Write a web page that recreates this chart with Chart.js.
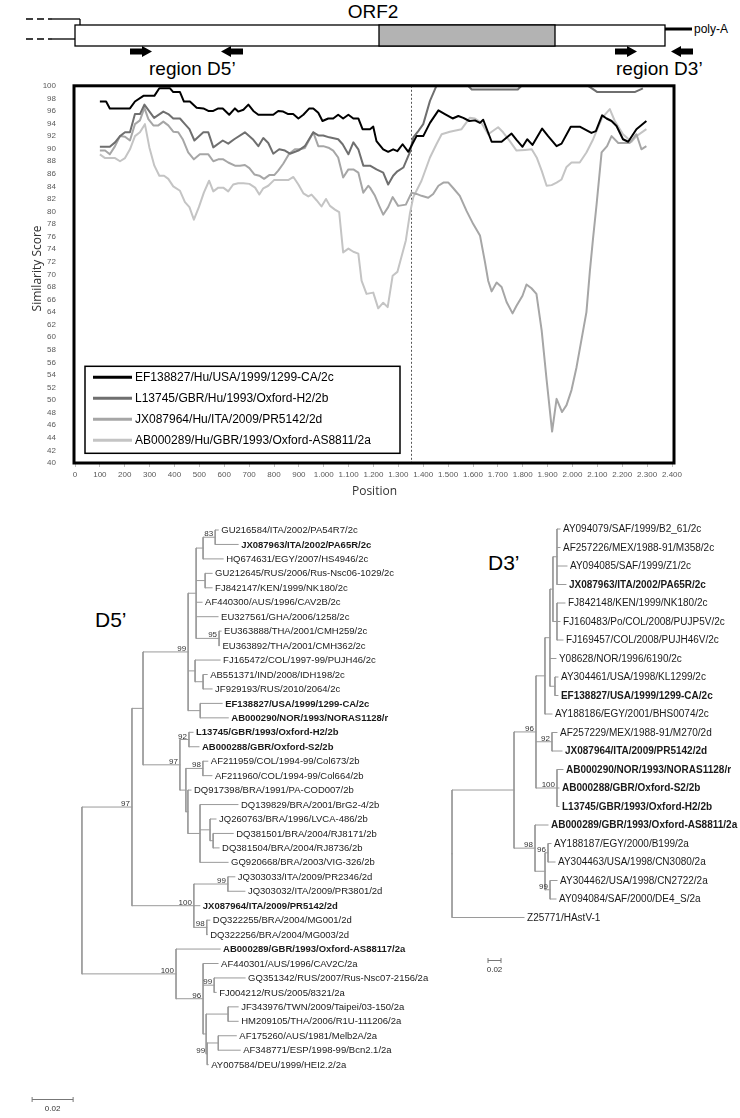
<!DOCTYPE html>
<html><head><meta charset="utf-8">
<script src="https://cdn.jsdelivr.net/npm/chart.js@4.4.1/dist/chart.umd.min.js"></script>
<style>
html,body{margin:0;padding:0;background:#fff;}
body{width:740px;height:1118px;position:relative;overflow:hidden;font-family:"Liberation Sans",Arial,sans-serif;}
.abs{position:absolute;}
</style></head><body>
<svg class="abs" style="left:0;top:0" width="740" height="1118" font-family="Liberation Sans, Arial, sans-serif">
  <text x="373" y="18" font-size="19" text-anchor="middle">ORF2</text>
  <g stroke="#000" stroke-width="1.3" fill="none">
    <line x1="26" y1="19" x2="52" y2="19" stroke-dasharray="7,4"/>
    <line x1="52" y1="19" x2="80" y2="19"/>
    <line x1="80" y1="19" x2="80" y2="25"/>
    <line x1="26" y1="39" x2="52" y2="39" stroke-dasharray="7,4"/>
    <line x1="52" y1="39" x2="75" y2="39"/>
    <rect x="75" y="25" width="590" height="21" fill="#fff"/>
    <rect x="379" y="25" width="176" height="21" fill="#b3b3b3"/>
    <line x1="665" y1="29" x2="692" y2="29" stroke-width="3"/>
  </g>
  <text x="694" y="33" font-size="12">poly-A</text>
  <g fill="#000">
    <polygon points="130,48.5 142,48.5 142,46 152,51.5 142,57 142,54.5 130,54.5"/>
    <polygon points="243,48.5 231,48.5 231,46 221,51.5 231,57 231,54.5 243,54.5"/>
    <polygon points="615,48.5 627,48.5 627,46 637,51.5 627,57 627,54.5 615,54.5"/>
    <polygon points="693,48.5 681,48.5 681,46 671,51.5 681,57 681,54.5 693,54.5"/>
  </g>
  <text x="149" y="75" font-size="19">region D5’</text>
  <text x="616" y="75" font-size="19">region D3’</text>
  <text x="95" y="627" font-size="21">D5’</text>
  <text x="488" y="570" font-size="21">D3’</text>
</svg>
<canvas id="sim" class="abs" style="left:0;top:70px" width="740" height="440"></canvas>
<canvas id="t5" class="abs" style="left:0;top:520px" width="430" height="598"></canvas>
<canvas id="t3" class="abs" style="left:440px;top:520px" width="300" height="480"></canvas>
<script>
// ================= DATA =================
const seriesNames = [
  "EF138827/Hu/USA/1999/1299-CA/2c",
  "L13745/GBR/Hu/1993/Oxford-H2/2b",
  "JX087964/Hu/ITA/2009/PR5142/2d",
  "AB000289/Hu/GBR/1993/Oxford-AS8811/2a"
];
const posEF = [100,125,140,221,241,275,319,339,382,395,422,438,462,489,516,536,556,576,594,620,643,656,677,697,717,737,797,817,837,857,877,898,918,942,958,978,995,1018,1038,1058,1078,1099,1119,1139,1156,1186,1199,1212,1239,1259,1279,1296,1317,1340,1373,1400,1427,1461,1487,1518,1541,1561,1585,1608,1628,1641,1675,1715,1755,1775,1799,1818,1839,1878,1902,1936,1956,1993,2029,2076,2094,2119,2137,2157,2177,2203,2224,2257,2297];
const simEF = [97.5,97.5,96.4,96.4,97.5,98.4,98.4,99.6,99.6,99,99,97.5,97.5,96.5,96.4,96,96,96.4,96.4,95.4,96.4,95.9,96.2,97,96,95.4,95.4,96,95.9,95.5,95.5,94.8,95.4,96.4,96.4,95.7,94.4,94.8,94.8,95.4,94.8,95.4,94.8,94.8,93.1,93.1,93.5,91.2,89.9,89.5,89.9,89.6,90.7,89.5,92,92,94.1,96.1,95.5,94.8,95.2,94.9,94.4,94.5,94.1,94.6,91.1,91.1,92.4,91.4,90.3,91.5,90.6,93.2,92,90.4,90.8,93.5,93.5,92.5,92.8,95.3,94.8,94.4,93.6,91.5,91.1,93.1,94.4];
const posL13 = [100,140,161,181,201,221,241,261,279,318,355,375,395,422,442,460,480,516,536,556,594,616,640,683,717,737,757,777,797,821,844,864,898,924,958,978,998,1022,1058,1076,1099,1119,1139,1159,1186,1212,1239,1259,1279,1296,1320,1346,1360,1380,1400,1427,1453,1580,1595,1780,1795,2063,2100,2250,2283];
const simL13 = [90.3,90.3,91,92,92.6,92.6,95.5,95.5,97,94.9,95.9,95.5,94.8,94.8,93.9,93.1,91.3,92.6,92.6,90.2,91.3,90.8,91.5,92.6,91.4,90.4,91.7,90.9,89.2,89.9,89.7,89.2,89.7,90.4,92.6,92.1,92.1,91.8,91.5,90.7,89.1,91,89.9,87.3,87.3,86.7,86.2,84.3,85.7,86.4,87,89.4,91.8,92.8,93.9,97.6,100,100,99.4,99.4,100,100,99,99,99.6];
const posJX = [100,121,140,161,181,201,221,241,261,279,295,315,335,355,375,395,415,433,455,478,502,536,556,576,596,616,643,663,683,701,721,741,760,781,801,817,837,861,884,904,924,958,978,998,1022,1038,1058,1078,1099,1119,1139,1159,1179,1186,1206,1223,1239,1259,1277,1299,1330,1353,1373,1393,1420,1440,1461,1481,1501,1521,1547,1574,1601,1628,1648,1661,1675,1695,1715,1735,1759,1775,1799,1815,1835,1855,1876,1896,1918,1936,1958,1976,1996,2016,2056,2070,2083,2097,2117,2139,2157,2184,2230,2257,2277,2297];
const simJX = [89.7,89.7,89.1,90.4,92,91.9,91.3,93.9,94.5,96.5,94.7,93.7,93.7,94.3,93.7,92.7,92.6,91.5,89.4,88.3,89.1,89.1,88,88.3,88.3,87.8,87.3,87.3,87.4,86.9,85.9,85.7,85.2,85.8,85.8,86.5,87.6,89.2,89.9,89.9,90.1,92.6,90.4,90.4,90.1,89.7,88.6,85.4,86.7,86.7,86.2,83,84.1,83.8,82.5,80.9,79.5,80.7,82.3,80.9,81.1,83,82.8,82.5,82.2,82.8,84.1,84.6,84.6,83.7,82.5,80.1,78,76.2,72,69,67.3,68.7,68,65.6,63.8,65,66.6,68.4,67.8,66.9,61.1,53.2,45,50.2,48.1,49.2,51.6,55.2,64,70.6,75.9,81.2,89.4,90.4,92,90.9,90.9,92.3,89.9,90.4];
const posAB = [100,121,161,181,201,221,241,261,281,299,319,339,358,375,395,422,442,460,478,498,518,539,556,576,596,616,636,656,677,701,724,741,757,777,800,821,857,878,898,918,938,951,971,991,1009,1025,1045,1062,1078,1099,1119,1139,1152,1172,1199,1219,1239,1257,1277,1296,1330,1346,1360,1393,1427,1453,1474,1507,1554,1587,1608,1634,1661,1701,1721,1748,1775,1809,1836,1856,1876,1896,1916,1936,1956,1976,1996,2029,2056,2083,2119,2150,2170,2203,2237,2257,2297];
const simAB = [89.1,88.5,88.5,88,88.5,89.9,92,92.6,93.9,90.2,87.3,85.7,85.7,85.2,84,83.3,81.5,80.7,78.7,80.7,83,84.9,83.2,83.8,83.8,83.2,84.3,84.5,84.5,84.4,83.8,82.7,83.7,84.1,85,85,85,85.5,84.3,82.9,82.4,82.7,81.8,80.8,82,80.9,80.3,79.9,73.5,74.1,73.6,73.3,69,66.9,67.1,64.6,65.5,64.8,69.8,70.4,75.4,79.6,82.3,84.9,88.6,90.7,92.3,92.7,93.1,94.9,94.8,94.1,92.3,93.4,92.6,91.2,89.7,89.8,89.9,88.6,86.5,84.1,84.2,84.6,85.1,87.1,87.8,87.8,89.4,91.5,94.9,96.3,94.4,92.3,91.1,92,93.1];
const breakpointPos = 1350;
const xRange = [0, 2400], xStep = 100;
const yRange = [40, 100], yStep = 2;
const axisTitles = ["Position", "Similarity Score"];

// Trees (Newick, branch lengths in substitutions/site, * = bold label)
const treeD5 = `(((((((GU216584/ITA/2002/PA54R7/2c:0.0015,*JX087963/ITA/2002/PA65R/2c:0.0112)83:0.0059,HQ674631/EGY/2007/HS4946/2c:0.0098):0.0034,
(GU212645/RUS/2006/Rus-Nsc06-1029/2c:0.0034,FJ842147/KEN/1999/NK180/2c:0.0034):0.0044,AF440300/AUS/1996/CAV2B/2c:0.0029,EU327561/GHA/2006/1258/2c:0.0107,
(EU363888/THA/2001/CMH259/2c:0.0010,EU363892/THA/2001/CMH362/2c:0.0002)95:0.0112):0.0039,
(FJ165472/COL/1997-99/PUJH46/2c:0.0122,(AB551371/IND/2008/IDH198/2c:0.0020,JF929193/RUS/2010/2064/2c:0.0044):0.0039):0.0034,
(*EF138827/USA/1999/1299-CA/2c:0.0107,*AB000290/NOR/1993/NORAS1128/r:0.0137):0.0059)99:0.0220,
((*L13745/GBR/1993/Oxford-H2/2b:0.0020,*AB000288/GBR/Oxford-S2/2b:0.0049)92:0.0044,
((AF211959/COL/1994-99/Col673/2b:0.0024,AF211960/COL/1994-99/Col664/2b:0.0044)98:0.0083,
(DQ917398/BRA/1991/PA-COD007/2b:0.0015,(DQ139829/BRA/2001/BrG2-4/2b:0.0185,(JQ260763/BRA/1996/LVCA-486/2b:0.0029,(DQ381501/BRA/2004/RJ8171/2b:0.0098,DQ381504/BRA/2004/RJ8736/2b:0.0029):0.0015):0.0049,GQ920668/BRA/2003/VIG-326/2b:0.0137):0.0059):0.0010):0.0029)97:0.0180):0.0054,
((JQ303033/ITA/2009/PR2346/2d:0.0034,JQ303032/ITA/2009/PR3801/2d:0.0083)99:0.0166,*JX087964/ITA/2009/PR5142/2d:0.0029,
(DQ322255/BRA/2004/MG001/2d:0.0015,DQ322256/BRA/2004/MG003/2d:0.0002)98:0.0063)100:0.0302)97:0.0244,
(*AB000289/GBR/1993/Oxford-AS88117/2a:0.0215,(AF440301/AUS/1996/CAV2C/2a:0.0073,
(GQ351342/RUS/2007/Rus-Nsc07-2156/2a:0.0151,FJ004212/RUS/2005/8321/2a:0.0010)99:0.0054,
((JF343976/TWN/2009/Taipei/03-150/2a:0.0049,HM209105/THA/2006/R1U-111206/2a:0.0049):0.0107,
((AF175260/AUS/1981/Melb2A/2a:0.0088,AF348771/ESP/1998-99/Bcn2.1/2a:0.0107):0.0054,AY007584/DEU/1999/HEI2.2/2a:0.0005)99:0.0005):0.0015)96:0.0132)100:0.0459):0.0385,
Z25771/HAstV-1:0.1190);`;

const treeD3 = `((((((((AY094079/SAF/1999/B2_61/2c:0.0046,AF257226/MEX/1988-91/M358/2c:0.0046,AY094085/SAF/1999/Z1/2c:0.0154,*JX087963/ITA/2002/PA65R/2c:0.0138):0.0062,
(FJ842148/KEN/1999/NK180/2c:0.0123,FJ160483/Po/COL/2008/PUJP5V/2c:0.0046,FJ169457/COL/2008/PUJH46V/2c:0.0092):0.0062):0.0046,
Y08628/NOR/1996/6190/2c:0.0092,(AY304461/USA/1998/KL1299/2c:0.0046,*EF138827/USA/1999/1299-CA/2c:0.0046):0.0077):0.0077,
AY188186/EGY/2001/BHS0074/2c:0.0108):0.0138,
(AF257229/MEX/1988-91/M270/2d:0.0077,*JX087964/ITA/2009/PR5142/2d:0.0154)92:0.0246,
(*AB000290/NOR/1993/NORAS1128/r:0.0092,*AB000288/GBR/Oxford-S2/2b:0.0031,*L13745/GBR/1993/Oxford-H2/2b:0.0031)100:0.0323)96:0.0338,
(*AB000289/GBR/1993/Oxford-AS8811/2a:0.0200,((AY188187/EGY/2000/B199/2a:0.0046,AY304463/USA/1998/CN3080/2a:0.0108)96:0.0046,
(AY304462/USA/1998/CN2722/2a:0.0108,AY094084/SAF/2000/DE4_S/2a:0.0092)99:0.0077):0.0154)98:0.0323):0.0954,
Z25771/HAstV-1:0.1108);`;
const scaleBarLength = 0.02;

// ================= SIMILARITY PLOT =================
const FONT = "'Liberation Sans', Arial, sans-serif";
Chart.defaults.font.family = FONT;
const pts = (xs, ys) => xs.map((x, i) => ({x, y: ys[i]}));
const fmtThousands = v => v >= 1000 ? Math.floor(v / 1000) + '.' + String(v % 1000).padStart(3, '0') : String(v);
const lineColors = ['#000000', '#6f6f6f', '#a6a6a6', '#c4c4c4'];
const simData = [pts(posEF, simEF), pts(posL13, simL13), pts(posJX, simJX), pts(posAB, simAB)];

const simDecor = {
  id: 'simDecor',
  beforeDatasetsDraw(chart) {
    const {ctx, chartArea: a, scales: {x}} = chart;
    const px = Math.round(x.getPixelForValue(breakpointPos)) + 0.5;
    ctx.save();
    ctx.strokeStyle = '#555'; ctx.lineWidth = 1; ctx.setLineDash([2, 2]);
    ctx.beginPath(); ctx.moveTo(px, a.top); ctx.lineTo(px, a.bottom); ctx.stroke();
    ctx.restore();
  },
  afterDatasetsDraw(chart) {
    const {ctx, chartArea: a} = chart;
    ctx.save();
    ctx.strokeStyle = '#000'; ctx.lineWidth = 3;
    ctx.strokeRect(a.left - 1, a.top, a.right - a.left + 3, a.bottom - a.top);
    const lx = a.left + 10, ly = a.top + 280.5, lw = 315, lh = 87;
    ctx.fillStyle = '#fff'; ctx.fillRect(lx, ly, lw, lh);
    ctx.lineWidth = 1.5; ctx.strokeRect(lx, ly, lw, lh);
    ctx.font = '12px ' + FONT; ctx.textBaseline = 'middle'; ctx.textAlign = 'left';
    chart.data.datasets.forEach((ds, i) => {
      const yy = ly + 11 + i * 21;
      ctx.strokeStyle = ds.borderColor; ctx.lineWidth = 3;
      ctx.beginPath(); ctx.moveTo(lx + 8, yy); ctx.lineTo(lx + 47, yy); ctx.stroke();
      ctx.fillStyle = '#000'; ctx.fillText(ds.label, lx + 50, yy + 0.5);
    });
    ctx.fillStyle = '#333'; ctx.font = "12px 'Open Sans', " + FONT;
    ctx.textAlign = 'center'; ctx.textBaseline = 'middle';
    ctx.fillText(axisTitles[0], (a.left + a.right) / 2 + 1, a.bottom + 29);
    ctx.translate(38, (a.top + a.bottom) / 2 - 6); ctx.rotate(-Math.PI / 2);
    ctx.fillText(axisTitles[1], 0, 0);
    ctx.restore();
  }
};

new Chart(document.getElementById('sim'), {
  type: 'line',
  data: {
    datasets: seriesNames.map((name, i) => ({
      label: name, data: simData[i], borderColor: lineColors[i], backgroundColor: lineColors[i],
      borderWidth: 2, pointRadius: 0, tension: 0, fill: false, borderJoinStyle: 'round', order: i
    }))
  },
  options: {
    responsive: false, animation: false, devicePixelRatio: 1,
    layout: {padding: {top: 14.6, right: 68, left: 0, bottom: 0}},
    plugins: {legend: {display: false}, tooltip: {enabled: false}},
    scales: {
      x: {
        type: 'linear', min: xRange[0], max: xRange[1],
        afterFit(s) { s.height = 47; },
        border: {display: false},
        grid: {drawOnChartArea: false, drawTicks: true, tickLength: 4, color: '#bdbdbd'},
        ticks: {stepSize: xStep, autoSkip: false, maxRotation: 0, padding: 3, color: '#595959',
                font: {size: 8}, callback: v => fmtThousands(v)}
      },
      y: {
        min: yRange[0], max: yRange[1],
        afterFit(s) { s.width = 75; },
        border: {display: false}, grid: {display: false},
        ticks: {stepSize: yStep, autoSkip: false, padding: 11, color: '#595959', font: {size: 8}}
      }
    }
  },
  plugins: [simDecor]
});

// ================= TREES =================
function parseNewick(str) {
  const s = str.replace(/\s+/g, '');
  let i = 0;
  function node() {
    const n = {children: [], name: '', len: 0, bs: ''};
    if (s[i] === '(') {
      i++; n.children.push(node());
      while (s[i] === ',') { i++; n.children.push(node()); }
      i++;
    }
    let lab = '';
    while (i < s.length && !':,();'.includes(s[i])) lab += s[i++];
    if (n.children.length) n.bs = lab; else n.name = lab;
    if (s[i] === ':') {
      i++; let num = '';
      while (i < s.length && !',();'.includes(s[i])) num += s[i++];
      n.len = parseFloat(num);
    }
    return n;
  }
  return node();
}
function layoutTree(root) {
  let tip = 0; const all = [];
  (function walk(n, px) {
    n.x = px + n.len; all.push(n);
    if (!n.children.length) n.y = tip++;
    else { n.children.forEach(c => walk(c, n.x)); n.y = (n.children[0].y + n.children[n.children.length - 1].y) / 2; }
  })(root, 0);
  return all;
}
function treeSegments(nodes) {
  const segs = [];
  nodes.forEach(n => {
    if (!n.children.length) return;
    const f = n.children[0], l = n.children[n.children.length - 1];
    segs.push([{x: n.x, y: f.y}, {x: n.x, y: l.y}]);
    n.children.forEach(c => segs.push([{x: n.x, y: c.y}, {x: c.x, y: c.y}]));
  });
  return segs;
}
function drawTree(canvasId, newick, cfg) {
  const root = parseNewick(newick);
  const nodes = layoutTree(root);
  const segs = treeSegments(nodes);
  const cv = document.getElementById(canvasId);
  const W = cv.width, H = cv.height;
  const xmin = -cfg.rootPx / cfg.pxPerUnit, xmax = xmin + W / cfg.pxPerUnit;
  const ymin = -cfg.firstTipPx / cfg.tipStep, ymax = ymin + H / cfg.tipStep;
  const labelPlugin = {
    id: 'treeLabels',
    afterDatasetsDraw(chart) {
      const {ctx, scales: {x, y}} = chart;
      ctx.save();
      ctx.textBaseline = 'middle'; ctx.textAlign = 'left'; ctx.fillStyle = '#1a1a1a';
      nodes.forEach(n => {
        if (n.children.length) return;
        const bold = n.name.startsWith('*');
        ctx.font = (bold ? 'bold ' : '') + cfg.font + 'px ' + FONT;
        ctx.fillText(bold ? n.name.slice(1) : n.name, x.getPixelForValue(n.x) + 3, y.getPixelForValue(n.y) + 0.5);
      });
      ctx.font = cfg.bsFont + 'px ' + FONT; ctx.textAlign = 'right'; ctx.textBaseline = 'alphabetic'; ctx.fillStyle = '#333';
      nodes.forEach(n => {
        if (!n.children.length || !n.bs) return;
        ctx.fillText(n.bs, x.getPixelForValue(n.x) - 2, y.getPixelForValue(n.y) - 1);
      });
      const x0 = x.getPixelForValue(cfg.barX), x1 = x.getPixelForValue(cfg.barX + scaleBarLength);
      const yb = Math.round(y.getPixelForValue(cfg.barY)) + 0.5;
      ctx.strokeStyle = '#777'; ctx.lineWidth = 1;
      ctx.beginPath(); ctx.moveTo(x0, yb); ctx.lineTo(x1, yb);
      ctx.moveTo(x0, yb - 2.5); ctx.lineTo(x0, yb + 2.5); ctx.moveTo(x1, yb - 2.5); ctx.lineTo(x1, yb + 2.5); ctx.stroke();
      ctx.textAlign = 'center'; ctx.textBaseline = 'top'; ctx.fillStyle = '#333'; ctx.font = '8px ' + FONT;
      ctx.fillText(String(scaleBarLength), (x0 + x1) / 2, yb + 5);
      ctx.restore();
    }
  };
  new Chart(cv, {
    type: 'scatter',
    data: {datasets: segs.map(s => ({data: s, showLine: true, borderColor: '#9a9a9a', borderWidth: 1,
                                       pointRadius: 0, pointHitRadius: 0, borderCapStyle: 'square'}))},
    options: {
      responsive: false, animation: false, devicePixelRatio: 1,
      layout: {padding: 0},
      plugins: {legend: {display: false}, tooltip: {enabled: false}},
      events: [],
      scales: {
        x: {type: 'linear', display: false, min: xmin, max: xmax},
        y: {type: 'linear', display: false, reverse: true, min: ymin, max: ymax}
      }
    },
    plugins: [labelPlugin]
  });
}
drawTree('t5', treeD5, {pxPerUnit: 2050, rootPx: 3, firstTipPx: 10, tipStep: 14.45, font: 9.5, bsFont: 8, barX: 0.0142, barY: 39.4});
drawTree('t3', treeD3, {pxPerUnit: 650, rootPx: 12, firstTipPx: 9, tipStep: 18.5, font: 10, bsFont: 8, barX: 0.0554, barY: 23.3});
</script>
</body></html>
